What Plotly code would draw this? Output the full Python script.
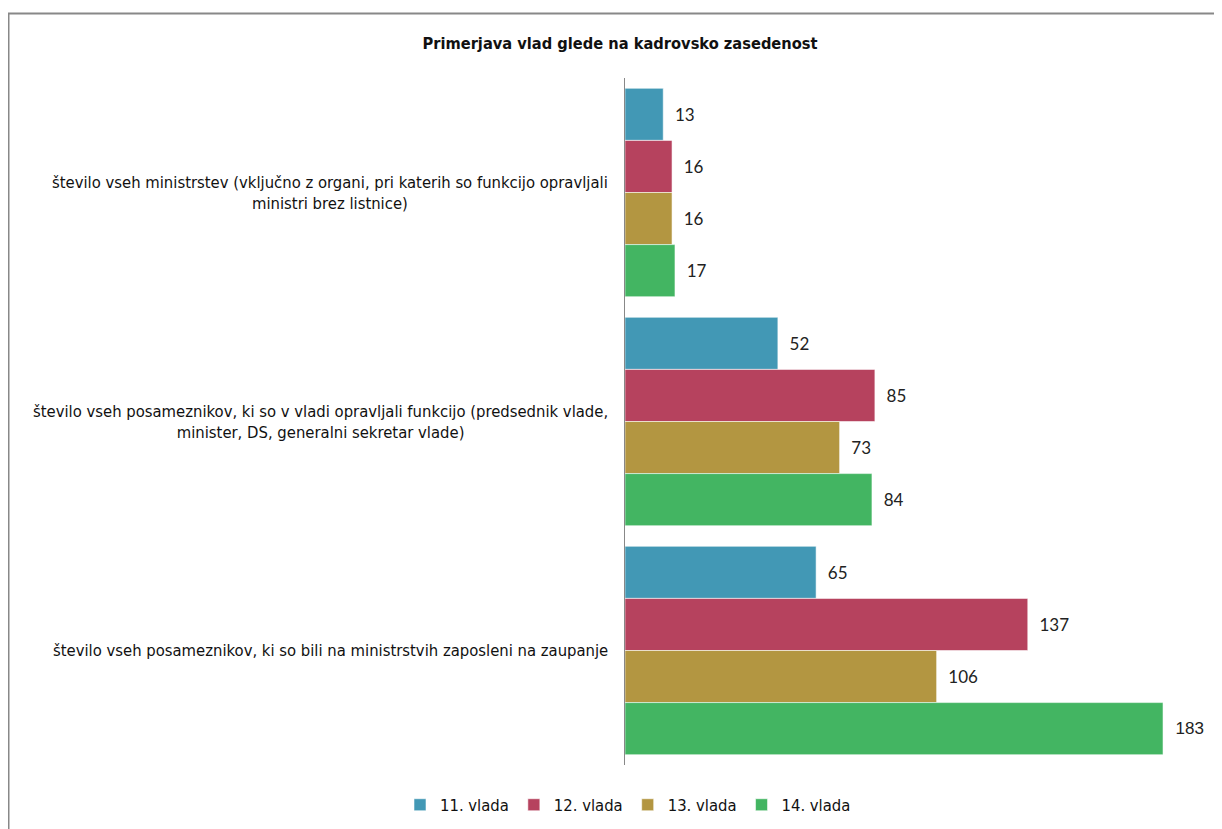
import plotly.graph_objects as go

categories = [
    "število vseh ministrstev (vključno z organi, pri katerih so funkcijo opravljali<br>ministri brez listnice)",
    "število vseh posameznikov, ki so v vladi opravljali funkcijo (predsednik vlade,<br>minister, DS, generalni sekretar vlade)",
    "število vseh posameznikov, ki so bili na ministrstvih zaposleni na zaupanje",
]
cat_keys = ["A", "B", "C"]
series_names = ["11. vlada", "12. vlada", "13. vlada", "14. vlada"]
v11 = [13, 52, 65]
v12 = [16, 85, 137]
v13 = [16, 73, 106]
v14 = [17, 84, 183]
values = [v11, v12, v13, v14]
colors = ["#4298B5", "#B6425E", "#B39641", "#43B562"]
title_text = "Primerjava vlad glede na kadrovsko zasedenost"

NARROW = "DejaVu Sans Condensed, Liberation Sans Narrow, Arial Narrow, Liberation Sans, sans-serif"

W, H = 1222, 829
OFF = 8  # page offset of the figure
L, R, T, B = 617, 17, 70, 72
pw, ph = W - L - R, H - T - B

fig = go.Figure()
for name, vals, col in zip(series_names, values, colors):
    fams = ["Liberation Sans" if v >= 150 else "Lato" for v in vals]
    fig.add_trace(go.Bar(
        y=cat_keys, x=vals, name=name, orientation="h",
        marker=dict(color=col, line=dict(color="rgba(255,255,255,0.55)", width=1)),
        text=["\u00a0\u00a0" + str(v) for v in vals], textposition="outside",
        textfont=dict(family=fams, size=17, color="#222"),
        cliponaxis=False,
    ))

def px2x(p):
    return (p - OFF - L) / pw

def py2y(p):
    return (H - B - (p - OFF)) / ph

annotations = []
for k, c in zip(cat_keys, categories):
    annotations.append(dict(
        x=-0.025, xref="paper", y=k, yref="y", text=c, showarrow=False,
        xanchor="right", yanchor="middle", align="center",
        font=dict(family=NARROW, size=16.5, color="#111"),
    ))

fig.update_layout(
    width=W, height=H,
    margin=dict(l=L, r=R, t=T, b=B),
    paper_bgcolor="white", plot_bgcolor="white",
    barmode="group", bargap=0.09, bargroupgap=0,
    title=dict(text="<b>" + title_text + "</b>", x=(620 - OFF) / W, xanchor="center",
               y=1 - (43 - OFF) / H, yanchor="middle",
               font=dict(family=NARROW, size=16.3, color="#111")),
    xaxis=dict(range=[0, 200], showgrid=False, zeroline=False, showticklabels=False,
               ticks="", showline=False),
    yaxis=dict(autorange="reversed", showticklabels=False, ticks="", showgrid=False,
               showline=True, linecolor="#888", linewidth=1, zeroline=False),
    legend=dict(orientation="h", x=px2x(628), xanchor="center", y=py2y(805),
                yanchor="middle", font=dict(family=NARROW, size=16.5, color="#111"),
                traceorder="normal", itemwidth=30),
    annotations=annotations,
    shapes=[dict(type="rect", xref="paper", yref="paper",
                 x0=px2x(8.5), x1=px2x(1260), y0=py2y(13.5), y1=py2y(870),
                 line=dict(color="#888", width=2), fillcolor="rgba(0,0,0,0)", layer="below")],
    showlegend=True,
)

fig.write_html("out.html")
